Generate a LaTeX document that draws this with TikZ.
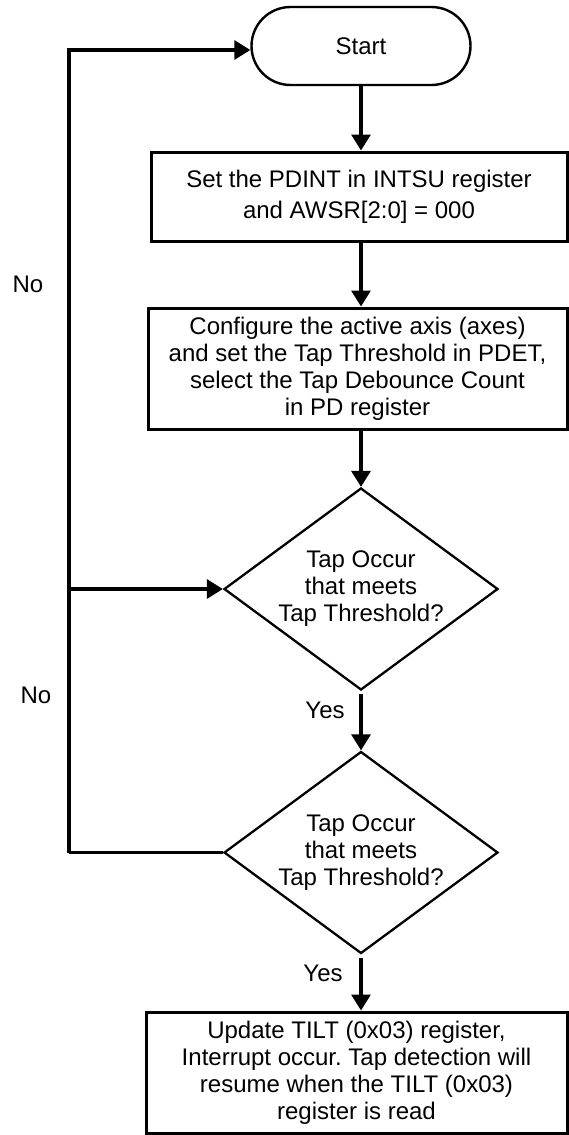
\documentclass[tikz,border=0pt]{standalone}
\usepackage{fontspec}
\setmainfont{Liberation Sans}
\frenchspacing
\usetikzlibrary{arrows.meta,shapes.geometric}
\tikzset{
  boxnode/.style={draw,line width=3pt,rectangle,inner sep=0pt,align=center,
    font=\fontsize{24pt}{27pt}\selectfont},
  startnode/.style={draw,line width=2.4pt,rectangle,rounded corners=39pt,inner sep=0pt,
    minimum width=219pt,minimum height=78pt,font=\fontsize{24pt}{27pt}\selectfont},
  decnode/.style={draw,line width=2.3pt,diamond,inner sep=0pt,aspect=1.3564,
    minimum width=274pt,minimum height=202pt,align=center,
    font=\fontsize{24pt}{27pt}\selectfont},
  conn/.style={line width=3.2pt},
  arr/.style={line width=3.2pt,-{Triangle[width=19pt,length=16pt]}},
  lbl/.style={font=\fontsize{24pt}{27pt}\selectfont,inner sep=0pt}
}
\begin{document}
\begin{tikzpicture}[x=1pt,y=-1pt]
\useasboundingbox (0,0) rectangle (569,1135);
\clip (0,0) rectangle (569,1135);
\node[startnode] (start) at (361,46) {Start};
\node[boxnode,minimum width=416pt,minimum height=89pt,
  font=\fontsize{24pt}{31pt}\selectfont] (b1) at (359,196.5)
  {Set the PDINT in INTSU register\\and AWSR[2:0] = 000};
\node[boxnode,minimum width=419pt,minimum height=121pt] (b2) at (357.5,368.5)
  {Configure the active axis (axes)\\and set the Tap Threshold in PDET,\\select the Tap Debounce Count\\in PD register};
\node[decnode] (d1) at (361,589) {Tap Occur\\that meets\\Tap Threshold?};
\node[decnode] (d2) at (361,852.5) {Tap Occur\\that meets\\Tap Threshold?};
\node[boxnode,minimum width=421pt,minimum height=121pt] (b4) at (356.5,1072.5)
  {Update TILT (0x03) register,\\Interrupt occur. Tap detection will\\resume when the TILT (0x03)\\register is read};
\coordinate (ctop) at (69,50);
\coordinate (cmid) at (69,589);
\coordinate (cbot) at (69,852.5);
\draw[arr] (start.south -| d1.north) -- (b1.north -| d1.north);
\draw[arr] (b1.south -| d1.north) -- (b2.north -| d1.north);
\draw[arr] (b2.south -| d1.north) -- (d1.north);
\draw[arr,shorten <=3pt] (d1.south) -- (d2.north);
\draw[arr,shorten <=3pt] (d2.south) -- (d2.south |- b4.north);
\draw[conn] (d2.west) -- (cbot);
\draw[arr] (cbot) -- (ctop) -- (ctop -| start.west);
\draw[arr] (cmid) -- (d1.west);
\node[lbl] (no1) at (28,284) {No};
\node[lbl] (no2) at (36,695) {No};
\node[lbl] (yes1) at (325,710) {Yes};
\node[lbl] (yes2) at (323,973) {Yes};
\end{tikzpicture}
\end{document}
